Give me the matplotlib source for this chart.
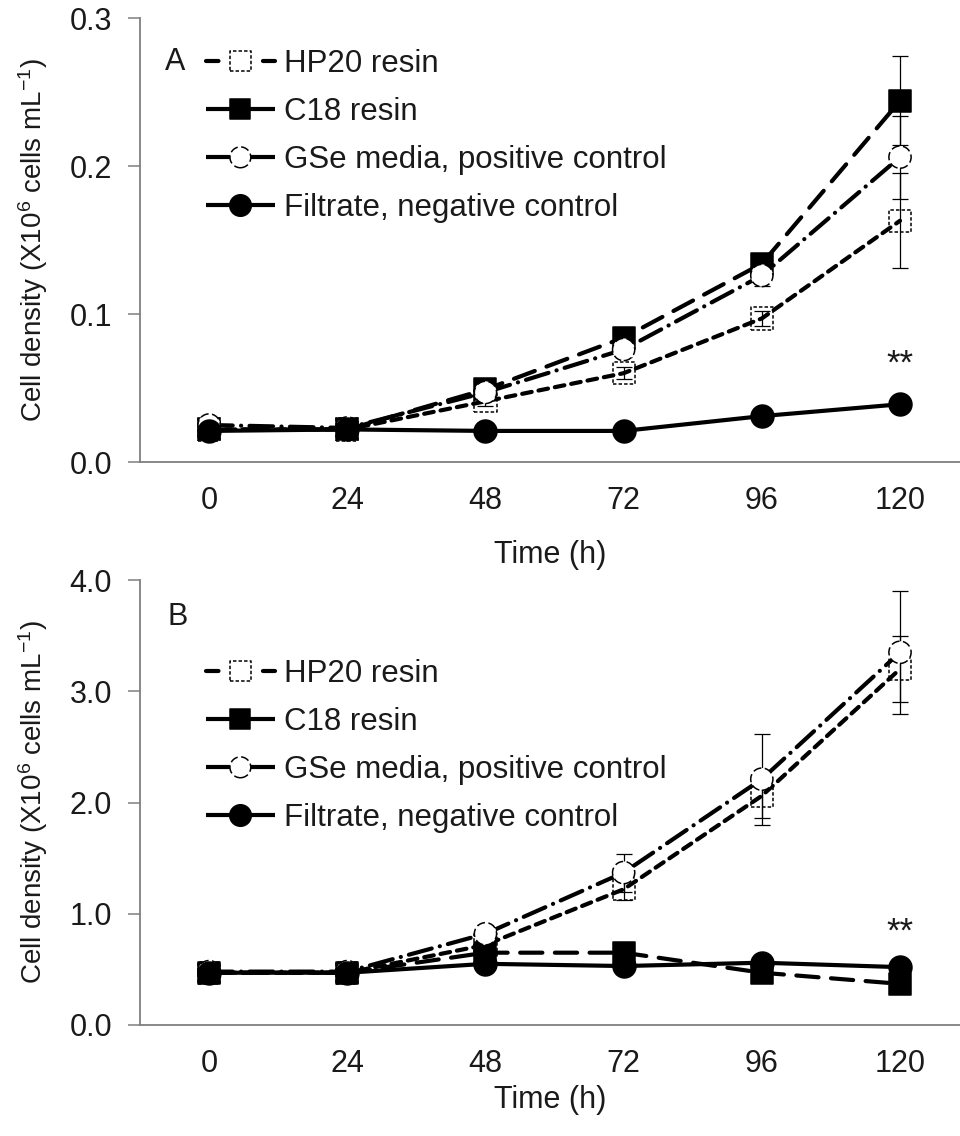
import matplotlib
matplotlib.use('Agg')
import matplotlib.pyplot as plt
from matplotlib.lines import Line2D
from matplotlib.legend_handler import HandlerTuple

plt.rcParams['font.family'] = ['Liberation Sans', 'DejaVu Sans']
plt.rcParams['mathtext.fontset'] = 'custom'
plt.rcParams['mathtext.rm'] = 'Liberation Sans'
plt.rcParams['mathtext.it'] = 'Liberation Sans'
plt.rcParams['lines.scale_dashes'] = False

hours = [0, 24, 48, 72, 96, 120]
labels = ['HP20 resin', 'C18 resin', 'GSe media, positive control',
          'Filtrate, negative control']

# A
a_hp20 = [0.022, 0.022, 0.041, 0.060, 0.097, 0.163]
a_hp20_err = [0.001, 0.001, 0.003, 0.004, 0.005, 0.032]
a_c18 = [0.022, 0.022, 0.049, 0.084, 0.134, 0.244]
a_c18_err = [0.001, 0.001, 0.003, 0.004, 0.006, 0.030]
a_gse = [0.025, 0.023, 0.047, 0.076, 0.126, 0.206]
a_gse_err = [0.001, 0.001, 0.003, 0.005, 0.007, 0.028]
a_filt = [0.021, 0.022, 0.021, 0.021, 0.031, 0.039]
a_filt_err = [0.001, 0.001, 0.001, 0.001, 0.001, 0.001]

# B
b_hp20 = [0.47, 0.47, 0.72, 1.22, 2.06, 3.20]
b_hp20_err = [0.02, 0.02, 0.06, 0.10, 0.20, 0.30]
b_c18 = [0.47, 0.47, 0.65, 0.65, 0.47, 0.37]
b_c18_err = [0.02, 0.02, 0.04, 0.05, 0.03, 0.04]
b_gse = [0.48, 0.48, 0.82, 1.37, 2.21, 3.35]
b_gse_err = [0.02, 0.02, 0.08, 0.17, 0.41, 0.55]
b_filt = [0.47, 0.47, 0.55, 0.53, 0.56, 0.52]
b_filt_err = [0.02, 0.02, 0.02, 0.02, 0.02, 0.02]

FS = 22
W, H = 960, 1136
TXT = '#1a1a1a'

# line dashes, marker, marker face, marker edge dashes, marker size, legend line
styles = [
    dict(ls=(0, (7, 5)), marker='s', face='none', edge_ls=(0, (2.5, 1.5)), size=16, leg_ls=(0, (9, 32))),
    dict(ls=(0, (16, 9)), marker='s', face='black', edge_ls='solid', size=16, leg_ls='solid'),
    dict(ls=(0, (17, 6, 0.1, 6)), marker='o', face='white', edge_ls=(0, (6, 2.5)), size=16, leg_ls='solid'),
    dict(ls='solid', marker='o', face='black', edge_ls='solid', size=16.5, leg_ls='solid'),
]


def draw_panel(ax, series, errs, ymax, yticks, ylabels, star_y, leg_top):
    handles = []
    for i, (y, e, st) in enumerate(zip(series, errs, styles)):
        z = 3 + i
        ax.errorbar(hours, y, yerr=e, fmt='none', ecolor='black', elinewidth=0.9,
                    capsize=5.5, capthick=0.9, zorder=z)
        ax.plot(hours, y, color='black', lw=3, linestyle=st['ls'],
                dash_capstyle='round', solid_capstyle='round', zorder=z)
        ax.scatter(hours, y, marker=st['marker'], s=st['size'] ** 2,
                   facecolors=st['face'], edgecolors='black', linewidths=1.1,
                   linestyles=st['edge_ls'], zorder=z + 0.5)
        # legend entry: short line with the marker laid over its middle
        hl = Line2D([], [], color='black', lw=3, linestyle=st['leg_ls'],
                    dash_capstyle='round', solid_capstyle='butt')
        face = 'white' if st['face'] == 'none' else st['face']
        hm = ax.scatter([], [], marker=st['marker'], s=(st['size'] - 1) ** 2,
                        facecolors=face, edgecolors='black', linewidths=1.1,
                        linestyles=st['edge_ls'])
        handles.append((hl, hm))

    ax.set_xlim(-12, 120 + 60 / 138.2 * 24)
    ax.set_ylim(0, ymax)
    ax.set_xticks(hours)
    ax.set_xticklabels([str(h) for h in hours])
    ax.set_yticks(yticks)
    ax.set_yticklabels(ylabels)
    for s in ['top', 'right']:
        ax.spines[s].set_visible(False)
    for s in ['left', 'bottom']:
        ax.spines[s].set_color('#7f7f7f')
        ax.spines[s].set_linewidth(1.3)
    ax.tick_params(axis='y', length=8.5, width=1.1, color='#7f7f7f', pad=11.5,
                   labelsize=FS, labelcolor=TXT)
    ax.tick_params(axis='x', length=0, pad=17, labelsize=FS, labelcolor=TXT)
    ax.set_xlabel('Time (h)', fontsize=FS, color=TXT, va='center')
    ax.set_ylabel(r'Cell density (X10$^{6}$ cells mL$^{-1}$)', fontsize=20,
                  color=TXT, va='center')
    ax.yaxis.set_label_coords(-(140 - 33) / 820, 0.5)

    ax.text(120, star_y, '**', fontsize=25, ha='center', va='baseline',
            color=TXT, zorder=10)

    leg = ax.legend(handles, labels,
                    handler_map={tuple: HandlerTuple(ndivide=1, pad=0)},
                    loc='upper left', bbox_to_anchor=(206 / W, 1 - leg_top / H),
                    bbox_transform=ax.figure.transFigure, frameon=False, fontsize=22.5,
                    handlelength=2.2, handletextpad=0.3, borderpad=0, borderaxespad=0,
                    labelspacing=0.58, scatterpoints=1, scatteryoffsets=[0.5])
    for t in leg.get_texts():
        t.set_color(TXT)
    return leg


fig = plt.figure(figsize=(W / 100, H / 100), dpi=100)
ax1 = fig.add_axes([140 / W, 1 - 462 / H, 820 / W, 444 / H])
ax2 = fig.add_axes([140 / W, 1 - 1025 / H, 820 / W, 445 / H])

draw_panel(ax1, [a_hp20, a_c18, a_gse, a_filt], [a_hp20_err, a_c18_err, a_gse_err, a_filt_err],
           0.3, [0.0, 0.1, 0.2, 0.3], ['0.0', '0.1', '0.2', '0.3'], 0.060, 49)
draw_panel(ax2, [b_hp20, b_c18, b_gse, b_filt], [b_hp20_err, b_c18_err, b_gse_err, b_filt_err],
           4.0, [0, 1, 2, 3, 4], ['0.0', '1.0', '2.0', '3.0', '4.0'], 0.75, 659)

ax1.xaxis.set_label_coords(0.5, -(555 - 462) / 444)
ax2.xaxis.set_label_coords(0.5, -(1100 - 1025) / 445)

fig.text(175 / W, 1 - 70 / H, 'A', fontsize=FS, ha='center', va='baseline', color=TXT)
fig.text(178 / W, 1 - 625 / H, 'B', fontsize=FS, ha='center', va='baseline', color=TXT)

fig.savefig('out.png', dpi=100)
